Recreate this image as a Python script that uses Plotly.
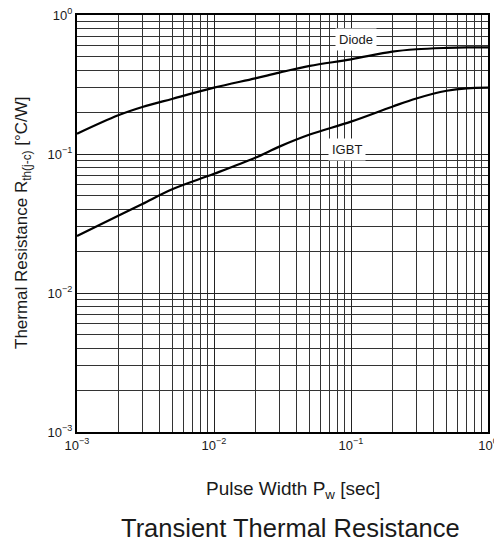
import plotly.graph_objects as go

pulse_width = [0.001, 0.002, 0.003, 0.005, 0.01, 0.02, 0.03, 0.05, 0.1, 0.2, 0.3, 0.5, 0.7, 1.0]
diode_rth = [0.14, 0.19, 0.218, 0.25, 0.30, 0.35, 0.385, 0.43, 0.48, 0.545, 0.567, 0.58, 0.585, 0.585]
igbt_rth = [0.0257, 0.036, 0.0437, 0.056, 0.072, 0.094, 0.113, 0.138, 0.171, 0.219, 0.251, 0.285, 0.297, 0.30]

x_tickvals = [1e-3, 1e-2, 1e-1, 1e0]
x_ticktext = ["10<sup>−3</sup>", "10<sup>−2</sup>", "10<sup>−1</sup>", "10<sup>0</sup>"]
y_tickvals = [1e-3, 1e-2, 1e-1, 1e0]
y_ticktext = ["10<sup>−3</sup>", "10<sup>−2</sup>", "10<sup>−1</sup>", "10<sup>0</sup>"]

FONT = "Liberation Sans, Arial, sans-serif"
INK = "#1a1a1a"

fig = go.Figure()
fig.add_trace(go.Scatter(x=pulse_width, y=diode_rth, mode="lines", name="Diode",
                         line=dict(color="black", width=2.2, shape="spline")))
fig.add_trace(go.Scatter(x=pulse_width, y=igbt_rth, mode="lines", name="IGBT",
                         line=dict(color="black", width=2.2, shape="spline")))

fig.add_annotation(x=-0.96, y=-0.174, xref="x", yref="y", text="Diode", showarrow=False,
                   font=dict(family=FONT, size=13, color=INK), bgcolor="white", borderpad=3)
fig.add_annotation(x=-1.03, y=-0.971, xref="x", yref="y", text="IGBT", showarrow=False,
                   font=dict(family=FONT, size=13, color=INK), bgcolor="white", borderpad=3)

axis_common = dict(
    type="log", automargin=False, ticklabeloverflow="allow",
    showgrid=True, gridcolor="#222", gridwidth=1.2,
    minor=dict(dtick="D1", showgrid=True, gridcolor="#333", gridwidth=1, ticks=""),
    showline=True, linecolor="black", linewidth=2, mirror=True,
    ticks="", zeroline=False,
    tickfont=dict(family=FONT, size=13, color=INK),
)

fig.update_xaxes(range=[-3, 0], tickvals=x_tickvals, ticktext=x_ticktext, **axis_common)
fig.update_yaxes(range=[-3, 0], tickvals=y_tickvals, ticktext=y_ticktext, **axis_common)

# axis titles and caption placed relative to plot area (411 px wide, 417 px tall)
fig.add_annotation(x=(293 - 77) / 411, y=-(490 - 432) / 417, xref="paper", yref="paper",
                   xanchor="center", yanchor="middle",
                   text="Pulse Width P<sub>w</sub> [sec]", showarrow=False,
                   font=dict(family=FONT, size=19, color=INK))
fig.add_annotation(x=-(77 - 23) / 411, y=(432 - 223) / 417, xref="paper", yref="paper",
                   xanchor="center", yanchor="middle", textangle=-90,
                   text="Thermal Resistance R<sub>th(j-c)</sub> [°C/W]", showarrow=False,
                   font=dict(family=FONT, size=17, color=INK))
fig.add_annotation(x=(290 - 77) / 411, y=-(528 - 432) / 417, xref="paper", yref="paper",
                   xanchor="center", yanchor="middle",
                   text="Transient Thermal Resistance", showarrow=False,
                   font=dict(family=FONT, size=25.5, color=INK))

# page body has an 8 px margin, so the figure is drawn 8 px right and down
fig.update_layout(
    width=494, height=535,
    margin=dict(l=69, r=14, t=7, b=111),
    paper_bgcolor="white", plot_bgcolor="white",
    showlegend=False,
)

fig.write_html("out.html")
